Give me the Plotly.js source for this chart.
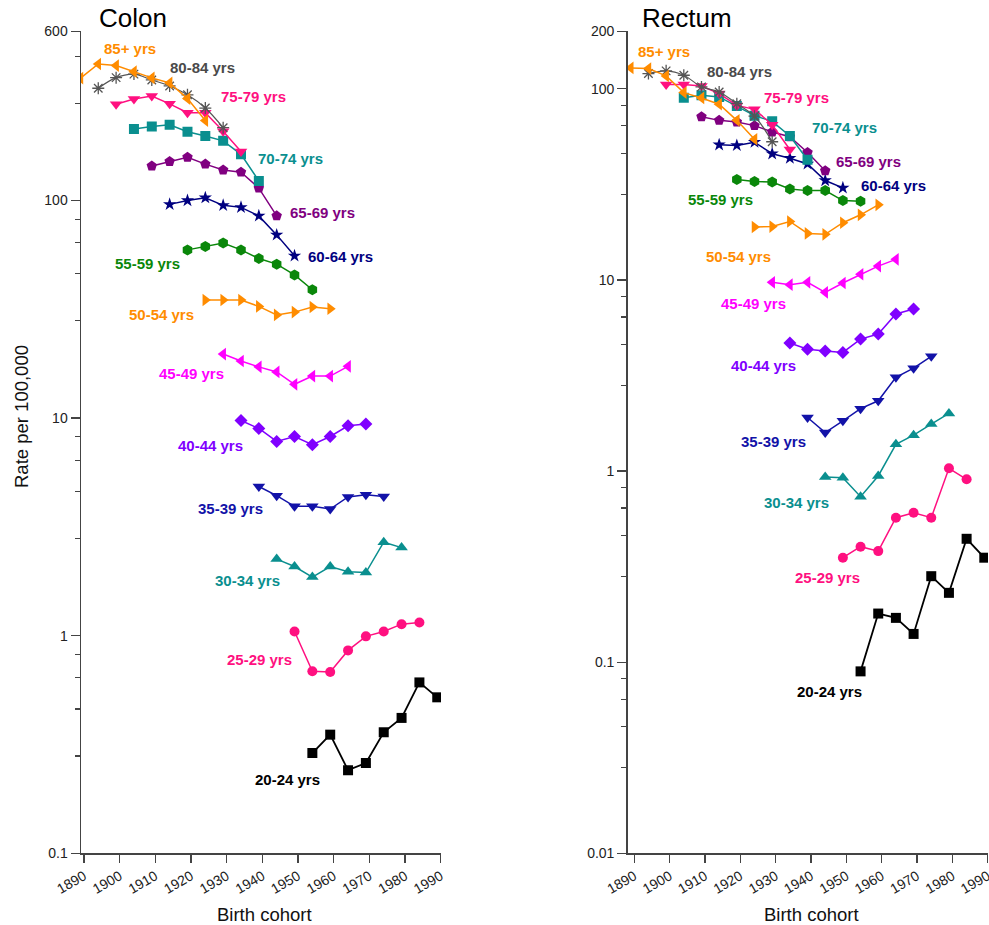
<!DOCTYPE html>
<html><head><meta charset="utf-8">
<script src="https://cdn.plot.ly/plotly-3.0.1.min.js"></script>
<style>html,body{margin:0;padding:0;background:#fff}#chart{width:989px;height:925px}</style>
</head><body><div id="chart"></div>
<script>
// ---- categories ----
const ageGroups = ["85+ yrs","80-84 yrs","75-79 yrs","70-74 yrs","65-69 yrs","60-64 yrs","55-59 yrs","50-54 yrs","45-49 yrs","40-44 yrs","35-39 yrs","30-34 yrs","25-29 yrs","20-24 yrs"];

// ---- birth cohorts per age group ----
const cohorts85   = [1889,1894,1899,1904,1909,1914,1919,1924];
const cohorts8084 = [1894,1899,1904,1909,1914,1919,1924,1929];
const cohorts7579 = [1899,1904,1909,1914,1919,1924,1929,1934];
const cohorts7074 = [1904,1909,1914,1919,1924,1929,1934,1939];
const cohorts6569 = [1909,1914,1919,1924,1929,1934,1939,1944];
const cohorts6064 = [1914,1919,1924,1929,1934,1939,1944,1949];
const cohorts5559 = [1919,1924,1929,1934,1939,1944,1949,1954];
const cohorts5054 = [1924,1929,1934,1939,1944,1949,1954,1959];
const cohorts4549 = [1929,1934,1939,1944,1949,1954,1959,1964];
const cohorts4044 = [1934,1939,1944,1949,1954,1959,1964,1969];
const cohorts3539 = [1939,1944,1949,1954,1959,1964,1969,1974];
const cohorts3034 = [1944,1949,1954,1959,1964,1969,1974,1979];
const cohorts2529 = [1949,1954,1959,1964,1969,1974,1979,1984];
const cohorts2024 = [1954,1959,1964,1969,1974,1979,1984,1989];

// ---- Colon rates per 100,000 ----
const colon85   = [365,424,417,391,366,347,294,233];
const colon8084 = [328,367,381,358,336,306,266,216];
const colon7579 = [277,293,302,278,253,253,208,168];
const colon7074 = [213,219,223,207,198,188,163,123];
const colon6569 = [144,151,158,147,138,135,114,85];
const colon6064 = [96,100,103,95,93,85,69.5,55.7];
const colon5559 = [59.3,61.4,63.7,59.3,54.1,51,45.5,38.9];
const colon5054 = [34.9,34.9,34.9,32.6,29.8,30.7,32.4,31.8];
const colon4549 = [19.7,18.3,17.2,16.3,14.3,15.6,15.6,17.3];
const colon4044 = [9.75,8.96,7.81,8.23,7.54,8.23,9.22,9.39];
const colon3539 = [4.85,4.40,3.93,3.93,3.82,4.34,4.44,4.36];
const colon3034 = [2.25,2.08,1.86,2.08,1.97,1.95,2.69,2.54];
const colon2529 = [1.046,0.686,0.681,0.856,0.993,1.046,1.13,1.15];
const colon2024 = [0.289,0.351,0.241,0.260,0.36,0.419,0.61,0.521];

// ---- Rectum rates per 100,000 ----
const rectum85   = [128.5,127.5,116.7,95.4,89.5,83.0,68.3,54.4];
const rectum8084 = [120,124,117.6,102.2,96.2,83.5,71.8,52.8];
const rectum7579 = [105.1,105.1,103.4,94.3,81.8,78.0,64.8,48.1];
const rectum7074 = [89.8,92.3,90.6,81.2,72.3,67.5,56.6,42.5];
const rectum6569 = [71.4,68.3,67.0,64.1,59.4,56.1,46.4,37.2];
const rectum6064 = [50.9,50.5,52.5,45.7,43.3,40.4,33.1,30.3];
const rectum5559 = [33.5,32.7,32.5,29.9,29.3,29.3,26.0,25.8];
const rectum5054 = [18.9,19.0,20.2,17.5,17.3,19.9,21.9,24.7];
const rectum4549 = [9.71,9.44,9.71,8.61,9.63,10.7,11.8,12.8];
const rectum4044 = [4.67,4.34,4.25,4.17,4.90,5.21,6.63,7.04];
const rectum3539 = [1.905,1.59,1.83,2.12,2.33,3.09,3.45,3.98];
const rectum3034 = [0.930,0.923,0.734,0.942,1.38,1.54,1.76,2.0];
const rectum2529 = [0.352,0.402,0.381,0.570,0.605,0.570,1.033,0.905];
const rectum2024 = [0.0895,0.1796,0.1705,0.1405,0.2817,0.2305,0.442,0.352];

// ---- axis ticks ----
const xTickVals = [1890,1900,1910,1920,1930,1940,1950,1960,1970,1980,1990];
const colonTickVals = [0.1,1,10,100,600];
const colonTickText = ["0.1","1","10","100","600"];
const colonMinor = [0.28,0.46,0.64,0.82,2.8,4.6,6.4,8.2,28,46,64,82,280,460];
const rectumTickVals = [0.01,0.1,1,10,100,200];
const rectumTickText = ["0.01","0.1","1","10","100","200"];
const rectumMinor = [0.028,0.046,0.064,0.082,0.28,0.46,0.64,0.82,2.8,4.6,6.4,8.2,28,46,64,82];

const cohortList = [cohorts85,cohorts8084,cohorts7579,cohorts7074,cohorts6569,cohorts6064,cohorts5559,cohorts5054,cohorts4549,cohorts4044,cohorts3539,cohorts3034,cohorts2529,cohorts2024];
const colonList = [colon85,colon8084,colon7579,colon7074,colon6569,colon6064,colon5559,colon5054,colon4549,colon4044,colon3539,colon3034,colon2529,colon2024];
const rectumList = [rectum85,rectum8084,rectum7579,rectum7074,rectum6569,rectum6064,rectum5559,rectum5054,rectum4549,rectum4044,rectum3539,rectum3034,rectum2529,rectum2024];

// ---- styles ----
const styles = [
  {c:'#FF8C00', t:'#FF8C00', s:'triangle-left', z:11},
  {c:'#555555', t:'#4a4a4a', s:'asterisk-open', z:10, spline:true, lw:1.2},
  {c:'#FF1080', t:'#FF1080', s:'triangle-down', z:11},
  {c:'#0A8F8F', t:'#0A8F8F', s:'square', z:10},
  {c:'#800080', t:'#800080', s:'pentagon', z:11},
  {c:'#000080', t:'#000080', s:'star', z:10},
  {c:'#0A870A', t:'#0A870A', s:'hexagon', z:11},
  {c:'#FF8C00', t:'#FF8C00', s:'triangle-right', z:11},
  {c:'#FF00FF', t:'#FF00FF', s:'triangle-left', z:11},
  {c:'#8000FF', t:'#8000FF', s:'diamond', z:10},
  {c:'#1212A8', t:'#1212A8', s:'triangle-down', z:11},
  {c:'#0A8F8F', t:'#0A8F8F', s:'triangle-up', z:11},
  {c:'#FF1080', t:'#FF1080', s:'circle', z:10},
  {c:'#000000', t:'#000000', s:'square', z:10, lw:1.8}
];

// label pixel positions (centres)
const colonLabelPos = [[130,48],[202,67],[253,96],[290,158],[322,212],[340,256],[147,263],[161,314],[191,373],[210,446],[230,508],[247,580],[259,659],[287,779]];
const rectumLabelPos = [[664,52],[739,71],[796,97],[844,127],[868,161],[893,186],[720,199],[738,256],[753,303],[763,366],[773,441],[796,502],[827,577],[829,691]];

const W = 989, H = 925;
const px = v => v / W;
const py = v => 1 - v / H;

const traces = [];
function addPanel(dataList, xa, ya) {
  for (let i = dataList.length - 1; i >= 0; i--) {
    const st = styles[i];
    const isAst = st.s.startsWith('asterisk');
    traces.push({
      type: 'scatter', mode: 'lines+markers',
      x: cohortList[i], y: dataList[i], xaxis: xa, yaxis: ya,
      name: ageGroups[i], showlegend: false, hoverinfo: 'skip',
      line: {color: st.c, width: st.lw || 1.5, shape: st.spline ? 'spline' : 'linear', smoothing: 1},
      marker: {symbol: st.s, size: st.z, color: st.c,
               line: isAst ? {color: st.c, width: 1.3} : {width: 0}}
    });
  }
}
addPanel(colonList, 'x', 'y');
addPanel(rectumList, 'x2', 'y2');

const font = 'Arial, "Liberation Sans", sans-serif';
const annotations = [];
ageGroups.forEach((g, i) => {
  annotations.push({xref:'paper', yref:'paper', x:px(colonLabelPos[i][0]), y:py(colonLabelPos[i][1]),
    xanchor:'center', yanchor:'middle', text:'<b>'+g+'</b>', showarrow:false,
    font:{family:font, size:15, color:styles[i].t}});
  annotations.push({xref:'paper', yref:'paper', x:px(rectumLabelPos[i][0]), y:py(rectumLabelPos[i][1]),
    xanchor:'center', yanchor:'middle', text:'<b>'+g+'</b>', showarrow:false,
    font:{family:font, size:15, color:styles[i].t}});
});
annotations.push({xref:'paper', yref:'paper', x:px(97), y:py(18), xanchor:'left', yanchor:'middle',
  text:'Colon', showarrow:false, font:{family:font, size:26, color:'#000'}});
annotations.push({xref:'paper', yref:'paper', x:px(640), y:py(18), xanchor:'left', yanchor:'middle',
  text:'Rectum', showarrow:false, font:{family:font, size:26, color:'#000'}});
annotations.push({xref:'paper', yref:'paper', x:px(21), y:py(417), xanchor:'center', yanchor:'middle',
  text:'Rate per 100,000', textangle:-90, showarrow:false, font:{family:font, size:18.5, color:'#111'}});
annotations.push({xref:'paper', yref:'paper', x:px(264), y:py(914), xanchor:'center', yanchor:'middle',
  text:'Birth cohort', showarrow:false, font:{family:font, size:18.5, color:'#111'}});
annotations.push({xref:'paper', yref:'paper', x:px(811), y:py(914), xanchor:'center', yanchor:'middle',
  text:'Birth cohort', showarrow:false, font:{family:font, size:18.5, color:'#111'}});

const axisCommon = {showline:true, linecolor:'#444', linewidth:1.5, showgrid:false, zeroline:false,
  ticks:'outside', tickcolor:'#444', tickwidth:1.3, tickfont:{family:font, size:14, color:'#222'},
  ticklabeloverflow:'allow'};

const xAxis = (dom, range, anchor) => Object.assign({}, axisCommon, {
  domain: dom, range: range, anchor: anchor, tickmode:'array', tickvals: xTickVals,
  ticktext: xTickVals.map(String), tickangle:-30, ticklen:8, fixedrange:true});
const yAxis = (anchor, range, tv, tt, minor) => Object.assign({}, axisCommon, {
  type:'log', domain:[0.0775, 0.9663], range: range, anchor: anchor,
  tickmode:'array', tickvals: tv, ticktext: tt, ticklen:9,
  minor:{tickmode:'array', tickvals: minor, ticks:'outside', ticklen:5, tickcolor:'#444', tickwidth:1.2, showgrid:false}});

const layout = {
  width: W, height: H, margin:{l:0, r:0, t:0, b:0}, paper_bgcolor:'#fff', plot_bgcolor:'#fff',
  showlegend:false,
  xaxis: xAxis([81/W, 441/W], [1889.16, 1990.05], 'y'),
  yaxis: yAxis('x', [-1, Math.log10(600)], colonTickVals, colonTickText, colonMinor),
  xaxis2: xAxis([627.7/W, 988/W], [1888.13, 1990.05], 'y2'),
  yaxis2: yAxis('x2', [-2, Math.log10(200)], rectumTickVals, rectumTickText, rectumMinor),
  annotations: annotations
};

Plotly.newPlot('chart', traces, layout, {displayModeBar:false, staticPlot:true});
</script>
</body></html>
